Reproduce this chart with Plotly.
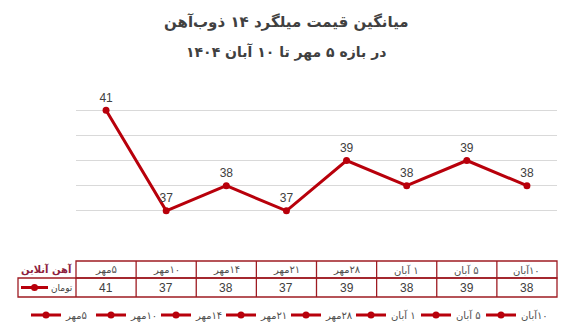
import plotly.graph_objects as go

categories = ["۵مهر", "۱۰مهر", "۱۴مهر", "۲۱مهر", "۲۸مهر", "۱ آبان", "۵ آبان", "۱۰آبان"]
values = [41, 37, 38, 37, 39, 38, 39, 38]
series_name = "تومان"
title_line1 = "میانگین قیمت میلگرد ۱۴ ذوب‌آهن"
title_line2 = "در بازه ۵ مهر تا ۱۰ آبان ۱۴۰۴"
logo_text = "آهن آنلاین"

W, H = 572, 335
ML, MR, MT, MB = 76, 15, 85, 99
PW = W - ML - MR
PH = H - MT - MB

LINE = "#B8000B"
BORDER = "#9E1B22"
TXT = "#404040"
FA = "DejaVu Sans"
LAT = "Liberation Sans"
RLM = "\u200f"

def px_x(p):
    return (p - ML) / PW

def px_y(p):
    return (H - MB - p) / PH

n = len(categories)
idx = list(range(n))

fig = go.Figure()
fig.add_trace(go.Scatter(
    x=idx, y=values, mode="lines+markers+text",
    text=[str(v) for v in values], textposition="top center",
    textfont=dict(family=LAT, size=12, color=TXT),
    line=dict(color=LINE, width=3), marker=dict(color=LINE, size=7),
    showlegend=False, cliponaxis=False, hoverinfo="skip"))

# legend entries (one per category, as in the source)
for c in categories:
    fig.add_trace(go.Scatter(x=[None], y=[None], mode="lines+markers", name=RLM + c,
                             line=dict(color=LINE, width=3), marker=dict(color=LINE, size=7)))

shapes = []
annotations = []

# table geometry (pixels)
top, mid, bot = 261, 278, 297
left_key = 18
y_top, y_mid, y_bot = px_y(top), px_y(mid), px_y(bot)
lc = dict(color=BORDER, width=1.3)

shapes.append(dict(type="rect", xref="paper", yref="paper", x0=0, x1=1, y0=y_mid, y1=y_top, line=lc))
shapes.append(dict(type="rect", xref="paper", yref="paper", x0=px_x(left_key), x1=1, y0=y_bot, y1=y_mid, line=lc))
shapes.append(dict(type="line", xref="paper", yref="paper", x0=0, x1=0, y0=y_bot, y1=y_mid, line=lc))
for i in range(1, n):
    shapes.append(dict(type="line", xref="paper", yref="paper", x0=i / n, x1=i / n, y0=y_bot, y1=y_top, line=lc))

yh = (y_top + y_mid) / 2
yd = (y_mid + y_bot) / 2
for i, (c, v) in enumerate(zip(categories, values)):
    annotations.append(dict(x=(i + 0.5) / n, y=yh, xref="paper", yref="paper", text=RLM + c, showarrow=False,
                            font=dict(family=FA, size=10, color="#505050"), xanchor="center", yanchor="middle"))
    annotations.append(dict(x=(i + 0.5) / n, y=yd, xref="paper", yref="paper", text=str(v), showarrow=False,
                            font=dict(family=LAT, size=12, color=TXT), xanchor="center", yanchor="middle"))

# key cell: line symbol + series name
shapes.append(dict(type="line", xref="paper", yref="paper", x0=px_x(21), x1=px_x(48), y0=yd, y1=yd,
                   line=dict(color=LINE, width=3)))
r = 3.5
shapes.append(dict(type="circle", xref="paper", yref="paper", x0=px_x(34.5 - r), x1=px_x(34.5 + r),
                   y0=yd - r / PH, y1=yd + r / PH, fillcolor=LINE, line=dict(color=LINE, width=0)))
annotations.append(dict(x=px_x(49), y=yd, xref="paper", yref="paper", text=series_name, showarrow=False,
                        font=dict(family=FA, size=9, color=TXT), xanchor="left", yanchor="middle"))

# logo text
annotations.append(dict(x=px_x(46), y=yh, xref="paper", yref="paper", text="<b>" + logo_text + "</b>",
                        showarrow=False, font=dict(family=FA, size=10, color="#8E1F3E"),
                        xanchor="center", yanchor="middle"))

# titles
annotations.append(dict(x=px_x(286), y=px_y(22), xref="paper", yref="paper", text="<b>" + title_line1 + "</b>",
                        showarrow=False, font=dict(family=FA, size=15, color=TXT), xanchor="center", yanchor="middle"))
annotations.append(dict(x=px_x(286), y=px_y(52), xref="paper", yref="paper", text="<b>" + title_line2 + "</b>",
                        showarrow=False, font=dict(family=FA, size=14, color=TXT), xanchor="center", yanchor="middle"))

fig.update_layout(
    width=W, height=H, margin=dict(l=ML, r=MR, t=MT, b=MB, autoexpand=False),
    paper_bgcolor="white", plot_bgcolor="white",
    xaxis=dict(range=[-0.5, n - 0.5], showticklabels=False, showgrid=False, zeroline=False, showline=False,
               fixedrange=True),
    yaxis=dict(range=[36, 42], dtick=1, showticklabels=False, showgrid=True, gridcolor="#D9D9D9", gridwidth=1,
               zeroline=False, showline=False, fixedrange=True),
    shapes=shapes, annotations=annotations,
    legend=dict(orientation="h", x=px_x(26), xanchor="left", y=px_y(315), yanchor="middle",
                font=dict(family=FA, size=10, color="#505050"), itemwidth=30, entrywidth=20, tracegroupgap=0,
                bgcolor="rgba(0,0,0,0)"),
    showlegend=True,
)

fig.write_html("out.html")
